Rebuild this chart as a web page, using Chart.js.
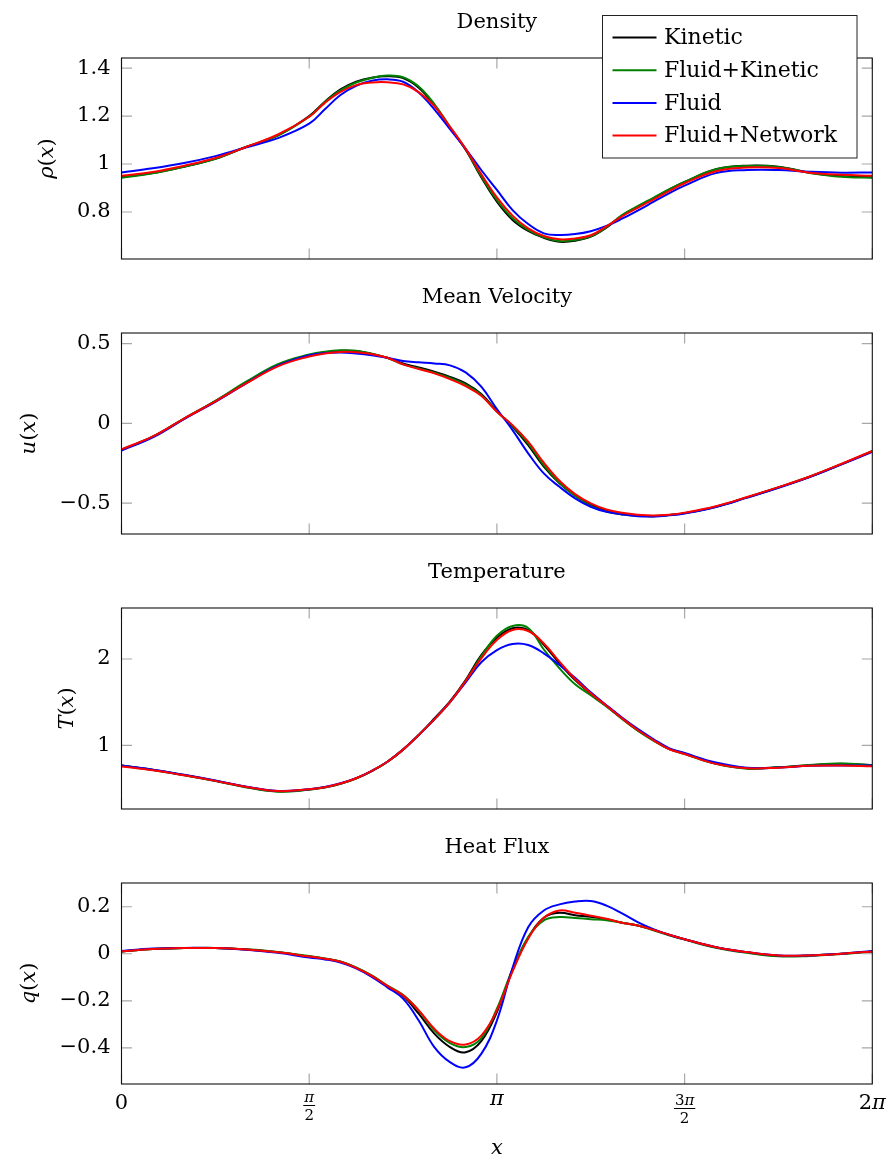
<!DOCTYPE html>
<html>
<head>
<meta charset="utf-8">
<title>Kinetic vs Fluid</title>
<script src="https://cdn.jsdelivr.net/npm/chart.js@4.4.0/dist/chart.umd.min.js"></script>
<style>
  body { margin: 0; background: #fff; }
  #wrap { position: relative; width: 889px; height: 1163px; }
  #wrap canvas { position: absolute; left: 0; }
</style>
</head>
<body>
<div id="wrap">
  <canvas id="c0" width="889" height="275" style="top:0px"></canvas>
  <canvas id="c1" width="889" height="275" style="top:275px"></canvas>
  <canvas id="c2" width="889" height="275" style="top:550px"></canvas>
  <canvas id="c3" width="889" height="338" style="top:825px"></canvas>
</div>
<script>
// x positions, in units of pi
var xs = [0, 0.0833, 0.1667, 0.25, 0.3333, 0.4167, 0.5,
          0.5417, 0.5833, 0.625, 0.6667, 0.7083, 0.75, 0.7917, 0.8333, 0.875, 0.9167, 0.9583, 1,
          1.0417, 1.0833, 1.125, 1.1667, 1.2083, 1.25, 1.2917, 1.3333, 1.375, 1.4167, 1.4583,
          1.5, 1.5833, 1.6667, 1.75, 1.8333, 1.9167, 2];

var seriesNames = ['Kinetic', 'Fluid+Kinetic', 'Fluid', 'Fluid+Network'];
var seriesColors = ['#000000', '#008000', '#0000ff', '#ff0000'];

// density rho(x)
var rhoKinetic = [0.945, 0.962, 0.989, 1.022, 1.072, 1.119, 1.200, 1.260, 1.311, 1.343, 1.360, 1.366, 1.358, 1.318, 1.246, 1.152, 1.060, 0.945, 0.843, 0.767, 0.721, 0.692, 0.676, 0.680, 0.697, 0.735, 0.785, 0.822, 0.857, 0.893, 0.925, 0.978, 0.993, 0.989, 0.964, 0.950, 0.945];
var rhoFluidKinetic = [0.943, 0.961, 0.989, 1.022, 1.072, 1.119, 1.197, 1.258, 1.307, 1.340, 1.359, 1.369, 1.362, 1.323, 1.250, 1.155, 1.062, 0.950, 0.850, 0.774, 0.725, 0.694, 0.679, 0.683, 0.699, 0.737, 0.787, 0.824, 0.859, 0.894, 0.925, 0.978, 0.992, 0.988, 0.963, 0.947, 0.943];
var rhoFluid = [0.965, 0.982, 1.004, 1.033, 1.070, 1.108, 1.168, 1.228, 1.288, 1.326, 1.347, 1.353, 1.343, 1.298, 1.228, 1.145, 1.063, 0.975, 0.892, 0.808, 0.750, 0.711, 0.704, 0.708, 0.720, 0.742, 0.772, 0.806, 0.842, 0.878, 0.910, 0.962, 0.975, 0.975, 0.968, 0.964, 0.965];
var rhoNetwork = [0.951, 0.967, 0.993, 1.025, 1.072, 1.123, 1.197, 1.255, 1.301, 1.329, 1.340, 1.341, 1.332, 1.300, 1.242, 1.155, 1.063, 0.958, 0.861, 0.785, 0.732, 0.700, 0.686, 0.690, 0.703, 0.740, 0.782, 0.817, 0.852, 0.887, 0.920, 0.970, 0.985, 0.983, 0.964, 0.955, 0.951];

// mean velocity u(x)
var uKinetic = [-0.165, -0.084, 0.030, 0.140, 0.258, 0.365, 0.425, 0.445, 0.455, 0.454, 0.435, 0.412, 0.376, 0.351, 0.324, 0.292, 0.251, 0.184, 0.077, -0.021, -0.136, -0.272, -0.376, -0.454, -0.512, -0.548, -0.567, -0.578, -0.582, -0.575, -0.563, -0.523, -0.464, -0.402, -0.335, -0.257, -0.175];
var uFluidKinetic = [-0.165, -0.084, 0.030, 0.142, 0.263, 0.372, 0.432, 0.450, 0.458, 0.456, 0.437, 0.410, 0.370, 0.345, 0.318, 0.285, 0.243, 0.178, 0.075, -0.017, -0.125, -0.262, -0.372, -0.455, -0.518, -0.553, -0.571, -0.580, -0.582, -0.575, -0.563, -0.523, -0.464, -0.402, -0.335, -0.257, -0.175];
var uFluid = [-0.170, -0.088, 0.027, 0.135, 0.253, 0.362, 0.428, 0.441, 0.445, 0.439, 0.428, 0.412, 0.391, 0.383, 0.376, 0.364, 0.320, 0.230, 0.090, -0.042, -0.188, -0.314, -0.398, -0.470, -0.523, -0.555, -0.571, -0.582, -0.584, -0.577, -0.565, -0.525, -0.466, -0.404, -0.337, -0.259, -0.178];
var uNetwork = [-0.163, -0.082, 0.030, 0.138, 0.252, 0.358, 0.420, 0.438, 0.448, 0.447, 0.435, 0.412, 0.370, 0.341, 0.314, 0.278, 0.234, 0.173, 0.073, -0.011, -0.115, -0.247, -0.360, -0.444, -0.502, -0.540, -0.561, -0.573, -0.578, -0.573, -0.560, -0.520, -0.462, -0.400, -0.333, -0.255, -0.173];

// temperature T(x)
var tKinetic = [0.765, 0.716, 0.656, 0.590, 0.518, 0.467, 0.488, 0.513, 0.555, 0.617, 0.702, 0.810, 0.950, 1.120, 1.310, 1.510, 1.757, 2.046, 2.247, 2.356, 2.336, 2.165, 1.950, 1.757, 1.600, 1.455, 1.310, 1.175, 1.060, 0.960, 0.905, 0.790, 0.735, 0.745, 0.770, 0.785, 0.770];
var tFluidKinetic = [0.765, 0.714, 0.652, 0.585, 0.512, 0.462, 0.484, 0.510, 0.553, 0.615, 0.700, 0.808, 0.950, 1.120, 1.300, 1.500, 1.745, 2.030, 2.270, 2.383, 2.360, 2.110, 1.892, 1.707, 1.580, 1.450, 1.305, 1.170, 1.055, 0.955, 0.900, 0.785, 0.728, 0.745, 0.772, 0.788, 0.770];
var tFluid = [0.765, 0.718, 0.658, 0.592, 0.520, 0.472, 0.492, 0.517, 0.560, 0.620, 0.705, 0.810, 0.950, 1.120, 1.300, 1.500, 1.730, 1.962, 2.104, 2.174, 2.162, 2.066, 1.930, 1.783, 1.614, 1.465, 1.322, 1.190, 1.072, 0.968, 0.910, 0.800, 0.740, 0.742, 0.762, 0.765, 0.765];
var tNetwork = [0.755, 0.710, 0.652, 0.588, 0.518, 0.470, 0.490, 0.515, 0.557, 0.618, 0.703, 0.810, 0.950, 1.120, 1.300, 1.500, 1.745, 2.008, 2.220, 2.336, 2.324, 2.180, 1.969, 1.768, 1.603, 1.459, 1.313, 1.177, 1.061, 0.957, 0.900, 0.785, 0.735, 0.740, 0.762, 0.765, 0.757];

// heat flux q(x)
var qKinetic = [0.010, 0.020, 0.024, 0.024, 0.018, 0.006, -0.012, -0.021, -0.034, -0.060, -0.095, -0.139, -0.180, -0.255, -0.340, -0.397, -0.419, -0.372, -0.248, -0.070, 0.068, 0.153, 0.174, 0.164, 0.157, 0.147, 0.132, 0.120, 0.102, 0.081, 0.062, 0.028, 0.006, -0.008, -0.007, 0.000, 0.010];
var qFluidKinetic = [0.010, 0.020, 0.024, 0.025, 0.019, 0.008, -0.010, -0.020, -0.033, -0.058, -0.092, -0.135, -0.175, -0.241, -0.326, -0.380, -0.397, -0.360, -0.234, -0.065, 0.071, 0.142, 0.156, 0.152, 0.147, 0.143, 0.132, 0.120, 0.100, 0.079, 0.060, 0.026, 0.004, -0.011, -0.009, -0.001, 0.010];
var qFluid = [0.012, 0.022, 0.025, 0.024, 0.017, 0.004, -0.016, -0.024, -0.037, -0.062, -0.098, -0.143, -0.191, -0.284, -0.397, -0.461, -0.483, -0.426, -0.284, -0.060, 0.113, 0.184, 0.210, 0.222, 0.224, 0.205, 0.172, 0.135, 0.105, 0.081, 0.062, 0.028, 0.007, -0.007, -0.007, 0.000, 0.012];
var qNetwork = [0.010, 0.020, 0.024, 0.024, 0.018, 0.006, -0.012, -0.021, -0.034, -0.060, -0.094, -0.137, -0.177, -0.241, -0.319, -0.372, -0.386, -0.348, -0.241, -0.075, 0.064, 0.153, 0.184, 0.174, 0.162, 0.149, 0.132, 0.120, 0.102, 0.081, 0.062, 0.028, 0.007, -0.007, -0.007, 0.000, 0.010];

var titles = ['Density', 'Mean Velocity', 'Temperature', 'Heat Flux'];
var yLabels = ['ρ(x)', 'u(x)', 'T(x)', 'q(x)'];
var yTicks = [[0.8, 1, 1.2, 1.4], [-0.5, 0, 0.5], [1, 2], [-0.4, -0.2, 0, 0.2]];
var yRanges = [[0.604, 1.442], [-0.694, 0.567], [0.262, 2.591], [-0.554, 0.301]];
var xTickVals = [0, 0.5, 1, 1.5, 2];
var xTickLabels = ['0', 'π/2', 'π', '3π/2', '2π'];
var xLabel = 'x';

var allSeries = [
    [rhoKinetic, rhoFluidKinetic, rhoFluid, rhoNetwork],
    [uKinetic, uFluidKinetic, uFluid, uNetwork],
    [tKinetic, tFluidKinetic, tFluid, tNetwork],
    [qKinetic, qFluidKinetic, qFluid, qNetwork]
];

var FAMILY = '"DejaVu Serif", serif';
function font(size, italic) {
    return (italic ? 'italic ' : '') + size + 'px ' + FAMILY;
}
function fmt(v) {
    return String(v).replace('-', '\u2212');
}

// letters in italic, digits and brackets upright (like TeX math)
function mathPieces(txt) {
    return txt.split('').map(function (ch) {
        return { ch: ch, it: !/[()0-9\/]/.test(ch) };
    });
}
function measureMath(ctx, txt, size) {
    var pieces = mathPieces(txt);
    var w = 0;
    pieces.forEach(function (p) {
        ctx.font = font(size, p.it);
        p.w = ctx.measureText(p.ch).width;
        w += p.w;
    });
    return { pieces: pieces, width: w };
}
function drawMath(ctx, txt, cx, y, size, baseline) {
    var m = measureMath(ctx, txt, size);
    var x = cx - m.width / 2;
    ctx.textAlign = 'left';
    ctx.textBaseline = baseline || 'middle';
    m.pieces.forEach(function (p) {
        ctx.font = font(size, p.it);
        ctx.fillText(p.ch, x, y);
        x += p.w;
    });
    return m.width;
}
function ascentOf(ctx, txt, size) {
    var a = 0;
    mathPieces(txt).forEach(function (p) {
        ctx.font = font(size, p.it);
        a = Math.max(a, ctx.measureText(p.ch).actualBoundingBoxAscent);
    });
    return a;
}

function drawXLabel(ctx, txt, cx, top) {
    var parts = txt.split('/');
    if (parts.length === 1) {
        drawMath(ctx, txt, cx, top + ascentOf(ctx, txt, 21), 21, 'alphabetic');
    } else {
        var numBase = top + ascentOf(ctx, parts[0], 15);
        var bar = numBase + 3.5;
        var wn = drawMath(ctx, parts[0], cx, numBase, 15, 'alphabetic');
        var denBase = bar + 3 + ascentOf(ctx, parts[1], 15);
        var wd = drawMath(ctx, parts[1], cx, denBase, 15, 'alphabetic');
        var w = Math.max(wn, wd) + 2;
        ctx.fillRect(cx - w / 2, bar - 0.5, w, 1);
    }
}

function makeDecor(idx, isLast) {
    return {
        id: 'decor' + idx,
        afterDatasetsDraw: function (chart) {
            var ctx = chart.ctx;
            var a = chart.chartArea;
            var sx = chart.scales.x, sy = chart.scales.y;
            ctx.save();

            // inward tick marks
            ctx.strokeStyle = '#a8a8a8';
            ctx.lineWidth = 1.2;
            ctx.beginPath();
            xTickVals.forEach(function (v) {
                var px = sx.getPixelForValue(v);
                ctx.moveTo(px, a.top); ctx.lineTo(px, a.top + 10.5);
                ctx.moveTo(px, a.bottom); ctx.lineTo(px, a.bottom - 10.5);
            });
            yTicks[idx].forEach(function (v) {
                var py = sy.getPixelForValue(v);
                ctx.moveTo(a.left, py); ctx.lineTo(a.left + 10.5, py);
                ctx.moveTo(a.right, py); ctx.lineTo(a.right - 10.5, py);
            });
            ctx.stroke();

            // frame
            ctx.strokeStyle = '#111';
            ctx.lineWidth = 1.1;
            ctx.strokeRect(a.left, a.top, a.right - a.left, a.bottom - a.top);

            // title
            ctx.fillStyle = '#000';
            ctx.font = font(21);
            ctx.textAlign = 'center';
            ctx.textBaseline = 'alphabetic';
            ctx.fillText(titles[idx], (a.left + a.right) / 2, a.top - 30);

            // y label, left of the widest tick label
            ctx.font = font(21);
            var maxW = 0;
            yTicks[idx].forEach(function (v) {
                maxW = Math.max(maxW, ctx.measureText(fmt(v)).width);
            });
            var cx = a.left - 11 - maxW - 30;
            var cy = (a.top + a.bottom) / 2;
            ctx.save();
            ctx.translate(cx, cy);
            ctx.rotate(-Math.PI / 2);
            drawMath(ctx, yLabels[idx], 0, 0, 21);
            ctx.restore();

            if (isLast) {
                xTickVals.forEach(function (v, i) {
                    drawXLabel(ctx, xTickLabels[i], sx.getPixelForValue(v), a.bottom + 10);
                });
                drawMath(ctx, xLabel, (a.left + a.right) / 2, a.bottom + 70, 21, 'alphabetic');
            }
            ctx.restore();
        }
    };
}

var legendPlugin = {
    id: 'boxLegend',
    afterDraw: function (chart) {
        var ctx = chart.ctx;
        ctx.save();
        ctx.fillStyle = '#fff';
        ctx.fillRect(602.5, 15.5, 254.5, 142.5);
        ctx.strokeStyle = '#222';
        ctx.lineWidth = 1;
        ctx.strokeRect(602.5, 15.5, 254.5, 142.5);
        ctx.font = font(22);
        ctx.textAlign = 'left';
        ctx.textBaseline = 'middle';
        seriesNames.forEach(function (name, s) {
            var y = 37.5 + s * 32.7;
            ctx.strokeStyle = seriesColors[s];
            ctx.lineWidth = 2;
            ctx.beginPath();
            ctx.moveTo(612.5, y);
            ctx.lineTo(656.5, y);
            ctx.stroke();
            ctx.fillStyle = '#000';
            ctx.fillText(name, 664, y + 1);
        });
        ctx.restore();
    }
};

function buildChart(idx) {
    var canvas = document.getElementById('c' + idx);
    var h = canvas.height;
    var isLast = idx === 3;

    var datasets = seriesNames.map(function (name, s) {
        return {
            label: name,
            data: xs.map(function (x, i) { return { x: x, y: allSeries[idx][s][i] }; }),
            borderColor: seriesColors[s],
            backgroundColor: seriesColors[s],
            borderWidth: 2,
            pointRadius: 0,
            fill: false,
            tension: 0.4,
            order: 3 - s
        };
    });

    var plugins = [makeDecor(idx, isLast)];
    if (idx === 0) plugins.push(legendPlugin);

    return new Chart(canvas.getContext('2d'), {
        type: 'line',
        data: { datasets: datasets },
        plugins: plugins,
        options: {
            responsive: false,
            animation: false,
            events: [],
            layout: { padding: { left: 0, right: 16.7, top: 58, bottom: h - 259 } },
            plugins: {
                legend: { display: false },
                tooltip: { enabled: false },
                title: { display: false }
            },
            scales: {
                x: {
                    type: 'linear',
                    min: 0,
                    max: 2,
                    grid: { display: false, drawTicks: false },
                    border: { display: false },
                    ticks: { display: false },
                    afterBuildTicks: function (scale) {
                        scale.ticks = xTickVals.map(function (v) { return { value: v }; });
                    },
                    afterFit: function (scale) {
                        scale.height = 0;
                        scale.paddingLeft = 0;
                        scale.paddingRight = 0;
                        scale.paddingTop = 0;
                        scale.paddingBottom = 0;
                    }
                },
                y: {
                    type: 'linear',
                    min: yRanges[idx][0],
                    max: yRanges[idx][1],
                    grid: { display: false, drawTicks: false },
                    border: { display: false },
                    ticks: {
                        padding: 11,
                        autoSkip: false,
                        color: '#000',
                        font: { family: 'DejaVu Serif', size: 21 },
                        callback: function (v) { return fmt(v); }
                    },
                    afterBuildTicks: function (scale) {
                        scale.ticks = yTicks[idx].map(function (v) { return { value: v }; });
                    },
                    afterFit: function (scale) {
                        scale.width = 121.5;
                        scale.paddingTop = 0;
                        scale.paddingBottom = 0;
                    }
                }
            }
        }
    });
}

for (var i = 0; i < 4; i++) {
    buildChart(i);
}
</script>
</body>
</html>
